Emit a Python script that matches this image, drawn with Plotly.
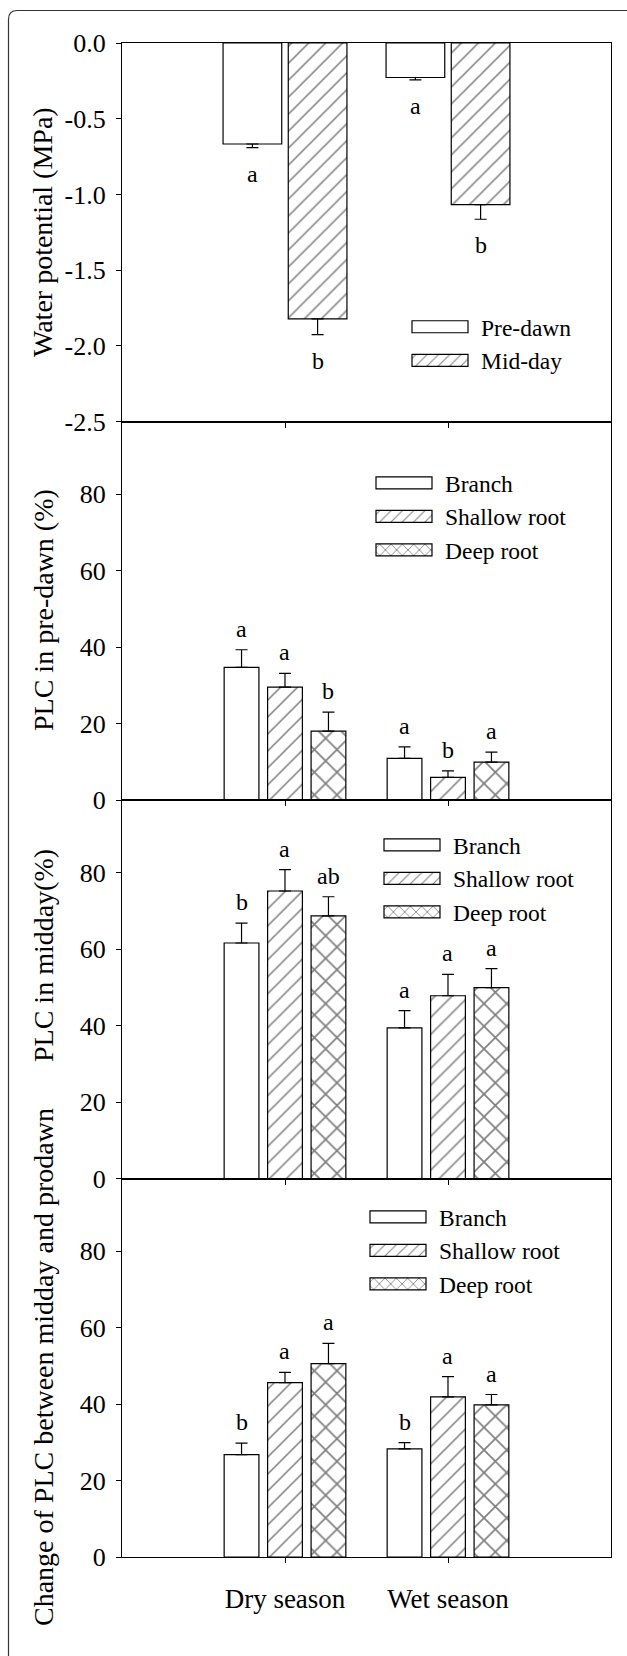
import plotly.graph_objects as go

# ---------------- data ----------------
seasons = ["Dry season", "Wet season"]

# Panel 1: water potential (MPa)
wp_predawn = [-0.667, -0.228]
wp_predawn_err = [0.024, 0.016]
wp_predawn_letters = ["a", "a"]
wp_midday = [-1.822, -1.067]
wp_midday_err = [0.104, 0.097]
wp_midday_letters = ["b", "b"]

# Panel 2: PLC in pre-dawn (%)
pd_branch = [34.7, 10.9]
pd_branch_err = [4.6, 3.0]
pd_branch_letters = ["a", "a"]
pd_shallow = [29.5, 5.9]
pd_shallow_err = [3.6, 1.7]
pd_shallow_letters = ["a", "b"]
pd_deep = [18.0, 9.9]
pd_deep_err = [5.0, 2.6]
pd_deep_letters = ["b", "a"]

# Panel 3: PLC in midday (%)
md_branch = [61.6, 39.4]
md_branch_err = [5.2, 4.5]
md_branch_letters = ["b", "a"]
md_shallow = [75.2, 47.8]
md_shallow_err = [5.6, 5.6]
md_shallow_letters = ["a", "a"]
md_deep = [68.7, 49.9]
md_deep_err = [5.0, 5.0]
md_deep_letters = ["ab", "a"]

# Panel 4: change of PLC between midday and predawn
ch_branch = [26.8, 28.3]
ch_branch_err = [3.0, 1.6]
ch_branch_letters = ["b", "b"]
ch_shallow = [45.6, 41.9]
ch_shallow_err = [2.7, 5.3]
ch_shallow_letters = ["a", "a"]
ch_deep = [50.6, 39.8]
ch_deep_err = [5.3, 2.7]
ch_deep_letters = ["a", "a"]

wp_tickvals = [0, -0.5, -1.0, -1.5, -2.0, -2.5]
wp_ticktext = ["0.0", "-0.5", "-1.0", "-1.5", "-2.0", "-2.5"]
plc_tickvals = [0, 20, 40, 60, 80]
plc_ticktext = ["0", "20", "40", "60", "80"]

y_titles = ["Water potential (MPa)", "PLC in pre-dawn (%)", "PLC in midday(%)",
            "Change of PLC between midday and prodawn"]

# ---------------- styling ----------------
FONT = "Liberation Serif"
W, H = 627, 1656
ML, MR, MT, MB = 122, 16, 43, 99
PW = W - ML - MR
PH = H - MT - MB


def px_x(px):
    return (px - ML) / PW


def px_y(py):
    return (H - MB - py) / PH


fig = go.Figure()
annotations = []

PATTERNS = {
    "": None,
    "/": dict(shape="/", fgcolor="black", bgcolor="white", size=12, solidity=0.13),
    "x": dict(shape="x", fgcolor="black", bgcolor="white", size=16, solidity=0.2),
}


def add_series(name, vals, errs, letters, panel, shape, offset, width, negative=False):
    sfx = "" if panel == 1 else str(panel)
    zeros = [0] * len(errs)
    err = dict(type="data", symmetric=False,
               array=zeros if negative else errs,
               arrayminus=errs if negative else zeros,
               color="black", thickness=1.2, width=6, visible=True)
    marker = dict(color="white", line=dict(color="black", width=1.2))
    if PATTERNS[shape]:
        marker["pattern"] = PATTERNS[shape]
    fig.add_trace(go.Bar(
        x=seasons, y=vals, name=name, marker=marker, error_y=err,
        offset=offset, width=width,
        xaxis="x" + sfx, yaxis="y" + sfx,
        legend="legend" + sfx, showlegend=True,
    ))
    for i, (v, e, t) in enumerate(zip(vals, errs, letters)):
        annotations.append(dict(
            x=i + offset + width / 2, y=v - e if negative else v + e,
            xref="x" + sfx, yref="y" + sfx, text=t, showarrow=False,
            yanchor="middle", xanchor="center",
            yshift=-26 if negative else 21,
            font=dict(family=FONT, size=24, color="black"),
        ))


# panel 1
W2 = 0.36
add_series("Pre-dawn", wp_predawn, wp_predawn_err, wp_predawn_letters, 1, "", -0.38, W2, negative=True)
add_series("Mid-day", wp_midday, wp_midday_err, wp_midday_letters, 1, "/", 0.02, W2, negative=True)

# panels 2-4
W3 = 0.2133
offs = [-0.3733, -0.1067, 0.16]
for panel, series in [
    (2, [(pd_branch, pd_branch_err, pd_branch_letters),
         (pd_shallow, pd_shallow_err, pd_shallow_letters),
         (pd_deep, pd_deep_err, pd_deep_letters)]),
    (3, [(md_branch, md_branch_err, md_branch_letters),
         (md_shallow, md_shallow_err, md_shallow_letters),
         (md_deep, md_deep_err, md_deep_letters)]),
    (4, [(ch_branch, ch_branch_err, ch_branch_letters),
         (ch_shallow, ch_shallow_err, ch_shallow_letters),
         (ch_deep, ch_deep_err, ch_deep_letters)]),
]:
    for (vals, errs, lets), name, shape, off in zip(
            series, ["Branch", "Shallow root", "Deep root"], ["", "/", "x"], offs):
        add_series(name, vals, errs, lets, panel, shape, off, W3)

# y-axis titles as annotations
title_centers = [232, 610, 956, 1367]
for t, cy in zip(y_titles, title_centers):
    annotations.append(dict(
        x=px_x(43), y=px_y(cy), xref="paper", yref="paper", text=t,
        textangle=-90, showarrow=False, xanchor="center", yanchor="middle",
        font=dict(family=FONT, size=28, color="black"),
    ))

axis_common = dict(showline=True, linecolor="black", linewidth=1.2, mirror=True,
                   showgrid=False, zeroline=False, ticks="outside", ticklen=5,
                   tickcolor="black", tickwidth=1.2,
                   tickfont=dict(family=FONT, size=26, color="black"))

domains = [[0.75, 1.0], [0.5, 0.75], [0.25, 0.5], [0.0, 0.25]]
layout = dict(
    width=W, height=H, margin=dict(l=ML, r=MR, t=MT, b=MB, autoexpand=False),
    paper_bgcolor="white", plot_bgcolor="white", barmode="overlay",
    font=dict(family=FONT, color="black"), annotations=annotations,
)
for p in range(1, 5):
    sfx = "" if p == 1 else str(p)
    xa = dict(axis_common, type="category", range=[-1, 2], anchor="y" + sfx,
              showticklabels=(p == 4))
    if p == 4:
        xa["tickfont"] = dict(family=FONT, size=27, color="black")
        xa["ticklabelstandoff"] = 12
    ya = dict(axis_common, anchor="x" + sfx, domain=domains[p - 1], ticklabelstandoff=5)
    if p == 1:
        ya.update(range=[-2.5, 0], tickvals=wp_tickvals, ticktext=wp_ticktext)
    else:
        ya.update(range=[0, 99], tickvals=plc_tickvals, ticktext=plc_ticktext)
    layout["xaxis" + sfx] = xa
    layout["yaxis" + sfx] = ya

legend_pos = {1: (407, 305), 2: (371, 461), 3: (379, 823), 4: (365, 1195)}
for p, (lx, ly) in legend_pos.items():
    sfx = "" if p == 1 else str(p)
    layout["legend" + sfx] = dict(
        x=px_x(lx), y=px_y(ly), xanchor="left", yanchor="top",
        bgcolor="rgba(0,0,0,0)", borderwidth=0, itemwidth=64,
        font=dict(family=FONT, size=23.5, color="black"),
        traceorder="normal", itemclick=False,
    )

# journal-style rounded frame
L, T, R, B, r = 8.5, 10.5, 680, 1668, 9
frame = (f"M {px_x(R)},{px_y(T)} L {px_x(L + r)},{px_y(T)} "
         f"Q {px_x(L)},{px_y(T)} {px_x(L)},{px_y(T + r)} "
         f"L {px_x(L)},{px_y(B - r)} Q {px_x(L)},{px_y(B)} {px_x(L + r)},{px_y(B)} "
         f"L {px_x(R)},{px_y(B)}")
layout["shapes"] = [dict(type="path", path=frame, xref="paper", yref="paper",
                         line=dict(color="#333", width=1.2), layer="above")]

fig.update_layout(**layout)

post = """
var gd = document.getElementById('{plot_id}');
function fixLegend(){
  gd.querySelectorAll('g.legendpoints path').forEach(function(p){
    p.setAttribute('d', 'M24,6H-32V-6H24Z');
  });
}
fixLegend();
gd.on('plotly_afterplot', fixLegend);
"""
fig.write_html("out.html", post_script=post)
